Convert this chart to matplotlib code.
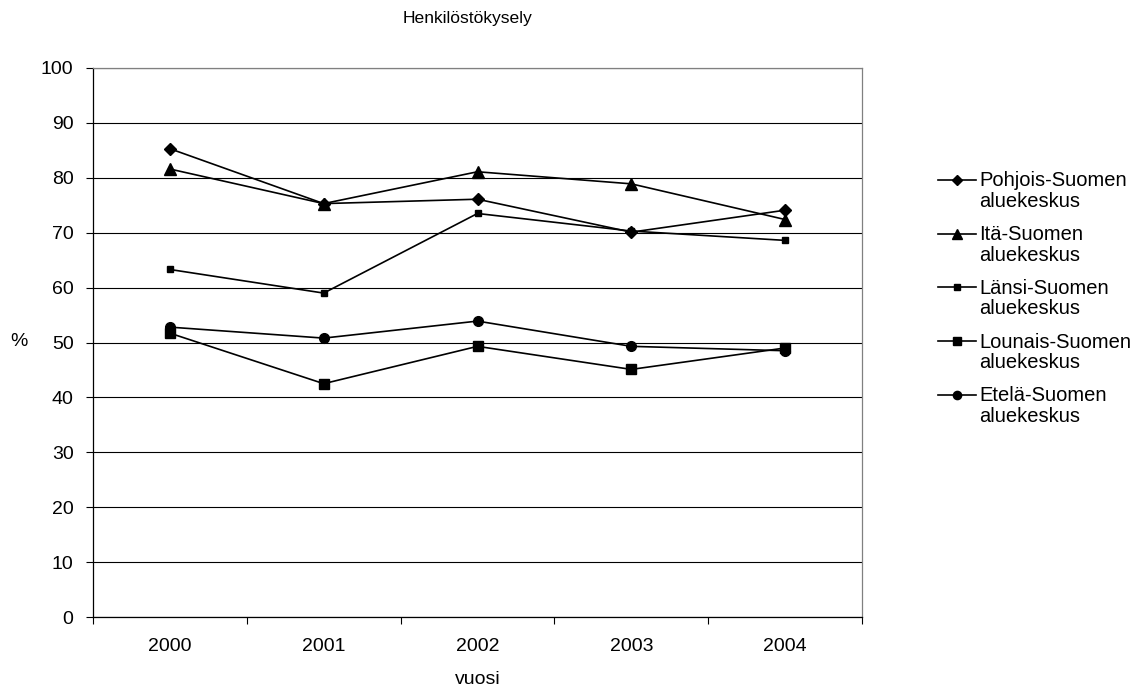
import matplotlib
matplotlib.use("Agg")
import matplotlib.pyplot as plt
from matplotlib.lines import Line2D

plt.rcParams['font.family'] = ['Liberation Sans', 'DejaVu Sans']

years = ["2000", "2001", "2002", "2003", "2004"]
pohjois = [85.3, 75.3, 76.1, 70.1, 74.1]
ita = [81.6, 75.3, 81.1, 78.9, 72.4]
lansi = [63.3, 59.0, 73.5, 70.3, 68.6]
lounais = [51.7, 42.5, 49.3, 45.1, 49.0]
etela = [52.8, 50.8, 53.9, 49.3, 48.5]

labels = ["Pohjois-Suomen\naluekeskus", "Itä-Suomen\naluekeskus",
          "Länsi-Suomen\naluekeskus", "Lounais-Suomen\naluekeskus",
          "Etelä-Suomen\naluekeskus"]
values = [pohjois, ita, lansi, lounais, etela]
markers = ["D", "^", "s", "s", "o"]
msizes = [5.8, 8, 4.8, 6.8, 7]

W, H = 1139, 688
fig = plt.figure(figsize=(W / 100, H / 100), dpi=100)
ax = fig.add_axes([93 / W, 1 - 617 / H, (862 - 93) / W, (617 - 68) / H])

x = list(range(len(years)))
for label, vals, marker, ms in zip(labels, values, markers, msizes):
    ax.plot(x, vals, color="black", linewidth=1.2, marker=marker,
            markersize=ms, markerfacecolor="black", markeredgecolor="black",
            label=label)

ax.set_xlim(-0.5, len(years) - 0.5)
ax.set_ylim(0, 100)
ax.set_yticks(range(0, 101, 10))
ax.yaxis.grid(True, color="black", linewidth=0.8)
ax.set_axisbelow(True)

# category ticks sit between the years, labels centred on them
ax.set_xticks([i - 0.5 for i in range(len(years) + 1)])
ax.set_xticklabels([])
ax.set_xticks(x, minor=True)
ax.set_xticklabels(years, minor=True)
ax.tick_params(axis="x", which="major", direction="out", length=5, width=0.8)
ax.tick_params(axis="x", which="minor", length=0, pad=15, labelsize=14)
ax.tick_params(axis="y", direction="out", length=5, width=0.8, labelsize=14, pad=9)

for side in ["left", "bottom"]:
    ax.spines[side].set_color("black")
    ax.spines[side].set_linewidth(0.9)
for side in ["top", "right"]:
    ax.spines[side].set_color("#808080")
    ax.spines[side].set_linewidth(0.9)

ax.set_xlabel("vuosi", fontsize=14, labelpad=12)
fig.text(10 / W, 1 - 342 / H, "%", fontsize=14, va="center", ha="left")
fig.text(468 / W, 1 - 18 / H, "Henkilöstökysely", fontsize=12.6,
         ha="center", va="center")

# legend: handle aligned with the first line of each two-line label
for i, (label, marker, ms) in enumerate(zip(labels, markers, msizes)):
    yh = 180 + 53.7 * i
    fig.add_artist(Line2D([938 / W, 976 / W], [1 - yh / H, 1 - yh / H],
                          transform=fig.transFigure, color="black",
                          linewidth=1.2))
    fig.add_artist(Line2D([957 / W], [1 - yh / H], transform=fig.transFigure,
                          marker=marker, markersize=ms * 0.85, color="black",
                          markerfacecolor="black", linestyle="none"))
    first, second = label.split("\n")
    fig.text(979 / W, 1 - (yh + 6.5) / H, first, fontsize=14.5,
             ha="left", va="baseline")
    fig.text(979 / W, 1 - (yh + 27) / H, second, fontsize=14.5,
             ha="left", va="baseline")

fig.savefig("out.png", dpi=100)
